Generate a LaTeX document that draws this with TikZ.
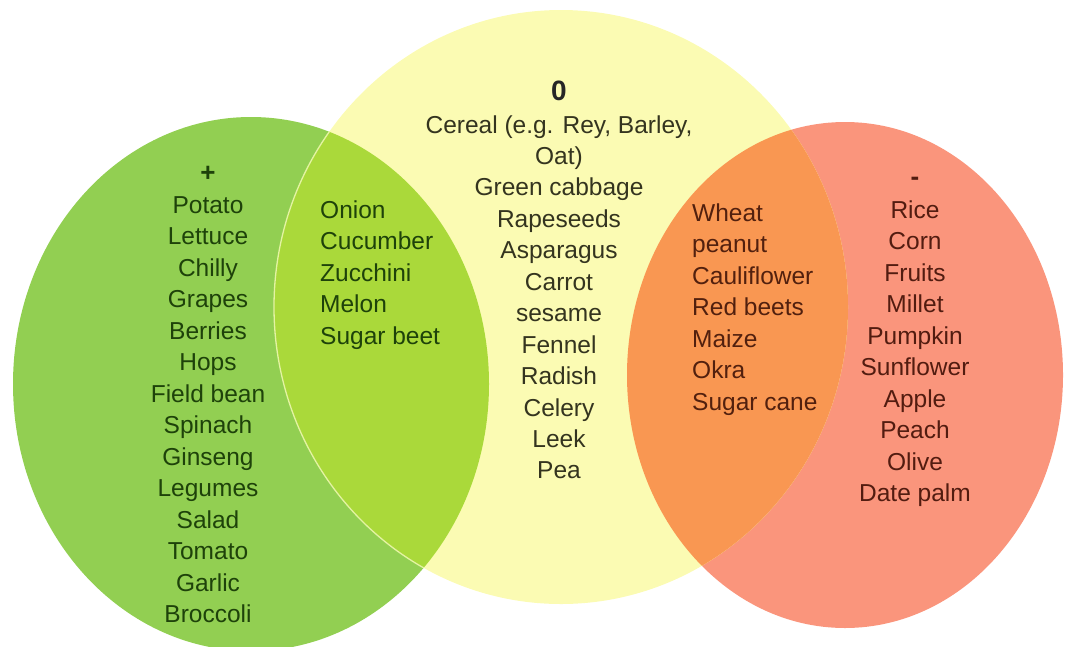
\documentclass[tikz,border=0pt]{standalone}
\usepackage{fontspec}
\setmainfont{Liberation Sans}
\definecolor{gOut}{HTML}{92CF52}
\definecolor{gLens}{HTML}{AAD93A}
\definecolor{yel}{HTML}{FBFBB3}
\definecolor{oLens}{HTML}{F99752}
\definecolor{sOut}{HTML}{FA957C}
\definecolor{lensLine}{HTML}{E4F3A2}
\definecolor{gTxt}{HTML}{1E420A}
\definecolor{yTxt}{HTML}{34341F}
\definecolor{oTxt}{HTML}{52200E}
\definecolor{sTxt}{HTML}{521C10}
\begin{document}
\begin{tikzpicture}[x=1pt,y=-1pt,
  item/.style={font=\fontsize{24.5}{30}\selectfont, inner sep=0pt, anchor=base},
  itemL/.style={item, anchor=base west},
  sign/.style={font=\bfseries\fontsize{26}{30}\selectfont, inner sep=0pt, anchor=base},
  zero/.style={font=\bfseries\fontsize{28}{32}\selectfont, inner sep=0pt, anchor=base}]
\useasboundingbox (0,0) rectangle (1065,646);
% circles
\fill[gOut] (251,384) ellipse [x radius=238, y radius=267];
\fill[sOut] (845,375) ellipse [x radius=218, y radius=253];
\fill[yel] (561,307) ellipse [x radius=287, y radius=297];
\begin{scope}
  \clip (561,307) ellipse [x radius=287, y radius=297];
  \fill[gLens] (251,384) ellipse [x radius=238, y radius=267];
  \fill[oLens] (845,375) ellipse [x radius=218, y radius=253];
\end{scope}
\begin{scope}
  \clip (251,384) ellipse [x radius=238, y radius=267];
  \draw[lensLine, line width=1.3] (561,307) ellipse [x radius=287, y radius=297];
\end{scope}
% green (+)
\node[sign, text=gTxt] (plus) at (208,181) {+};
\foreach \t [count=\i] in {Potato,Lettuce,Chilly,Grapes,Berries,Hops,Field bean,Spinach,Ginseng,Legumes,Salad,Tomato,Garlic,Broccoli}
  \node[item, text=gTxt] (g\i) at (208,{213+31.5*(\i-1)}) {\t};
% green lens
\foreach \t [count=\i] in {Onion,Cucumber,Zucchini,Melon,Sugar beet}
  \node[itemL, text=gTxt] (gl\i) at (320,{218+31.5*(\i-1)}) {\t};
% yellow (0)
\node[zero, text=black!85] (zero) at (559,100) {0};
\foreach \t [count=\i] in {{Cereal (e.g. Rey, Barley,},Oat),Green cabbage,Rapeseeds,Asparagus,Carrot,sesame,Fennel,Radish,Celery,Leek,Pea}
  \node[item, text=yTxt] (y\i) at (559,{133+31.45*(\i-1)}) {\t};
% orange lens
\foreach \t [count=\i] in {Wheat,peanut,Cauliflower,Red beets,Maize,Okra,Sugar cane}
  \node[itemL, text=oTxt] (ol\i) at (692,{221+31.5*(\i-1)}) {\t};
% salmon (-)
\node[sign, text=sTxt] (minus) at (915,185) {-};
\foreach \t [count=\i] in {Rice,Corn,Fruits,Millet,Pumpkin,Sunflower,Apple,Peach,Olive,Date palm}
  \node[item, text=sTxt] (s\i) at (915,{218+31.55*(\i-1)}) {\t};
\end{tikzpicture}
\end{document}
